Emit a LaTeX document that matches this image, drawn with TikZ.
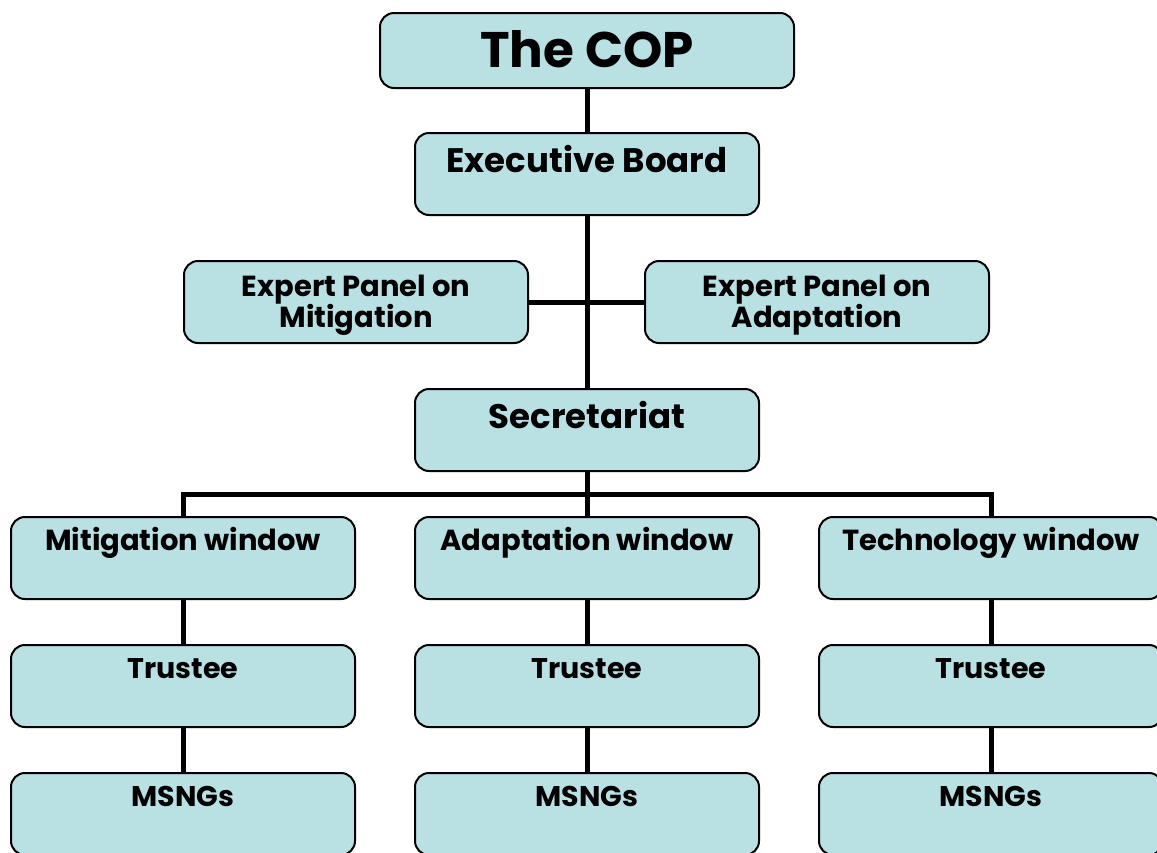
\documentclass[tikz,border=0pt]{standalone}
\usepackage{fontspec}
\setmainfont{Poppins}
\usepackage{tikz}
\usetikzlibrary{positioning}

\definecolor{boxblue}{RGB}{185,224,227}

\begin{document}
\begin{tikzpicture}[x=1pt,y=1pt,node distance=44pt,
        org node/.style={draw,line width=2pt,rounded corners=14pt,fill=boxblue,
            minimum width=344pt,minimum height=82pt,inner sep=0pt,align=center},
        big node/.style={org node,text height=39pt,text depth=43pt,
            font=\bfseries\fontsize{34}{36}\selectfont},
        small node/.style={org node,text height=33.5pt,text depth=48.5pt,
            font=\bfseries\fontsize{29}{31}\selectfont},
        panel node/.style={org node,font=\bfseries\fontsize{29}{31}\selectfont},
        link/.style={line width=5pt}]

    \clip (0,0) rectangle (1157,-852);

    \node[org node,minimum width=414pt,minimum height=75pt,text height=40pt,text depth=7pt,
        font=\bfseries\fontsize{50}{54}\selectfont] (cop) at (587,-50.5) {The COP};
    \node[big node] (board) [below=43pt of cop] {Executive Board};
    \node[panel node] (expmit) [below=44pt of board,xshift=-231pt] {\rule{0pt}{28pt}Expert Panel on\\Mitigation};
    \node[panel node] (expada) [below=44pt of board,xshift=230pt] {\rule{0pt}{28pt}Expert Panel on\\Adaptation};
    \node[big node] (sec) [below=172pt of board] {Secretariat};

    % funding windows
    \node[small node] (adawin) [below=of sec] {Adaptation window};
    \node[small node] (mitwin) [left=58pt of adawin] {Mitigation window};
    \node[small node] (tecwin) [right=58pt of adawin] {Technology window};

    \node[small node,font=\bfseries\fontsize{28.5}{31}\selectfont] (mittru) [below=of mitwin] {Trustee};
    \node[small node,font=\bfseries\fontsize{28.5}{31}\selectfont] (adatru) [below=of adawin] {Trustee};
    \node[small node,font=\bfseries\fontsize{28.5}{31}\selectfont] (tectru) [below=of tecwin] {Trustee};

    \node[small node,font=\bfseries\fontsize{28.5}{31}\selectfont] (mitmsg) [below=of mittru] {MSNGs};
    \node[small node,font=\bfseries\fontsize{28.5}{31}\selectfont] (adamsg) [below=of adatru] {MSNGs};
    \node[small node,font=\bfseries\fontsize{28.5}{31}\selectfont] (tecmsg) [below=of tectru] {MSNGs};

    \path[link]
    (cop) edge (board)
    (board) edge (sec)
    (expmit) edge (expada)
    (mitwin) edge (mittru)
    (mittru) edge (mitmsg)
    (adawin) edge (adatru)
    (adatru) edge (adamsg)
    (tecwin) edge (tectru)
    (tectru) edge (tecmsg);

    \draw[link] (sec.south) -- ++(0,-22) coordinate (split) -- (adawin.north);
    \draw[link] (split) -| (mitwin.north);
    \draw[link] (split) -| (tecwin.north);
\end{tikzpicture}
\end{document}
